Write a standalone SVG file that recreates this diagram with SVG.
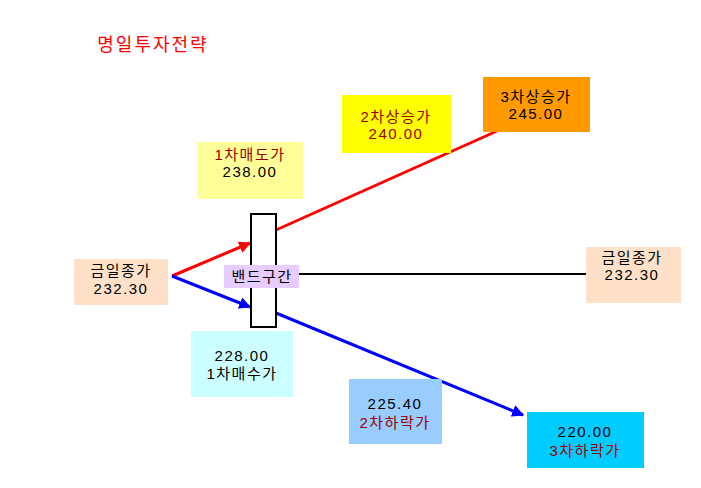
<svg xmlns="http://www.w3.org/2000/svg" width="701" height="488" viewBox="0 0 701 488">
<defs>
<style>
text{font-family:"Liberation Sans","Noto Sans CJK KR",sans-serif;font-size:15px;text-anchor:middle;letter-spacing:1.5px}
.dr{fill:#990000}
.bk{fill:#000}
</style>
<marker id="ar" viewBox="0 0 10 10" refX="9" refY="5" markerWidth="4" markerHeight="4" orient="auto" markerUnits="strokeWidth"><path d="M0,0L10,5L0,10z" fill="#f00"/></marker>
<marker id="ab" viewBox="0 0 10 10" refX="9" refY="5" markerWidth="4" markerHeight="4" orient="auto" markerUnits="strokeWidth"><path d="M0,0L10,5L0,10z" fill="#00f"/></marker>
</defs>
<rect width="701" height="488" fill="#fff"/>
<text x="153" y="51" style="font-size:18px;letter-spacing:2px;fill:#f00">명일투자전략</text>
<g id="connectors">
<line x1="172" y1="276" x2="250" y2="243" stroke="#f00" stroke-width="3" marker-end="url(#ar)"/>
<line x1="172" y1="276" x2="250" y2="307" stroke="#00f" stroke-width="3" marker-end="url(#ab)"/>
<line x1="276" y1="230" x2="497" y2="131" stroke="#f00" stroke-width="3"/>
<line x1="276" y1="313" x2="523" y2="415" stroke="#00f" stroke-width="3" marker-end="url(#ab)"/>
<line x1="299" y1="274" x2="586" y2="274" stroke="#000" stroke-width="2"/>
</g>
<g id="band"><rect x="251" y="214" width="25" height="113" fill="#fff" stroke="#000" stroke-width="2"/></g>
<g id="bandlabel"><rect x="224" y="265" width="75" height="23" fill="#e6ccff"/><text x="262" y="282" class="bk">밴드구간</text></g>
<g id="close-left"><rect x="74" y="259" width="94" height="46" fill="#ffe0c8"/><text x="121" y="276" class="bk">금일종가</text><text x="121" y="294" class="bk">232.30</text></g>
<g id="sell1"><rect x="197" y="142" width="106" height="57" fill="#ffff99"/><text x="250" y="160" class="dr">1차매도가</text><text x="250" y="177" class="bk">238.00</text></g>
<g id="buy1"><rect x="191" y="331" width="102" height="66" fill="#ccffff"/><text x="242" y="361" class="bk">228.00</text><text x="242" y="379" class="bk">1차매수가</text></g>
<g id="up2"><rect x="342" y="95" width="109" height="58" fill="#ffff00"/><text x="396" y="122" class="dr">2차상승가</text><text x="396" y="139" class="dr">240.00</text></g>
<g id="up3"><rect x="483" y="77" width="107" height="55" fill="#ff9900"/><text x="536" y="102" class="bk">3차상승가</text><text x="536" y="119" class="bk">245.00</text></g>
<g id="close-right"><rect x="586" y="247" width="95" height="56" fill="#ffe0c8"/><text x="632" y="263" class="bk">금일종가</text><text x="632" y="280" class="bk">232.30</text></g>
<g id="down2"><rect x="349" y="379" width="93" height="65" fill="#99ccff"/><text x="395" y="409" class="bk">225.40</text><text x="395" y="428" class="dr">2차하락가</text></g>
<g id="down3"><rect x="527" y="412" width="117" height="56" fill="#00ccff"/><text x="585" y="437" class="bk">220.00</text><text x="585" y="456" class="dr">3차하락가</text></g>
</svg>
